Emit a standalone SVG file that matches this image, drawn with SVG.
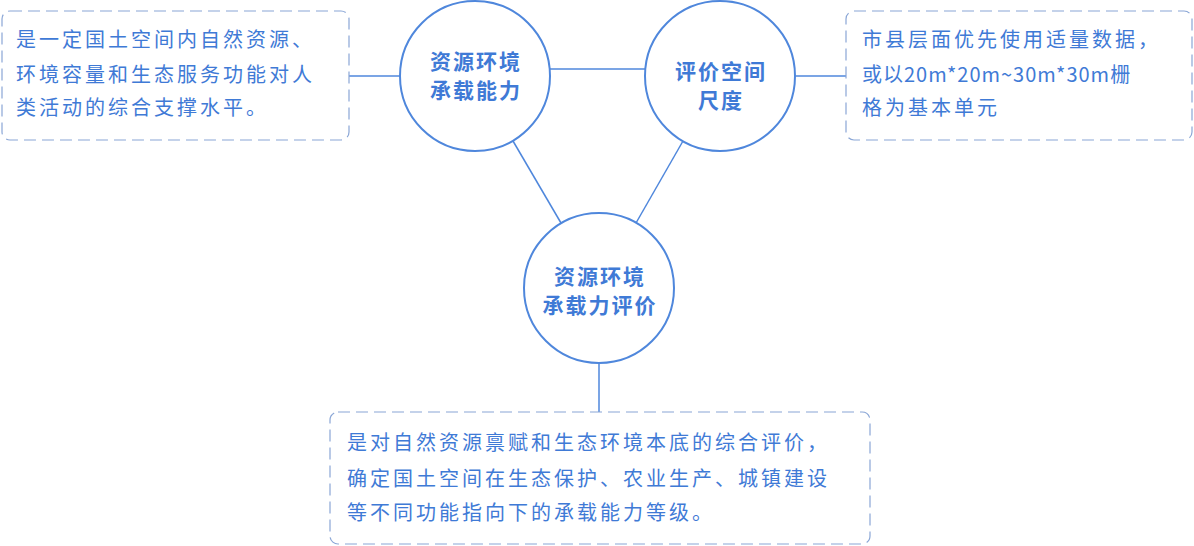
<svg xmlns="http://www.w3.org/2000/svg" width="1194" height="546" viewBox="0 0 1194 546">
<style>
.c{fill:#fff;stroke:#4f87dc;stroke-width:2}
.b{fill:#fff;stroke:#8aa6d6;stroke-width:1.2;stroke-dasharray:12 6}
.l{stroke:#4f87dc;stroke-width:1.5;fill:none}
.t{font-family:"Noto Sans CJK SC","Noto Sans",sans-serif;font-size:20px;letter-spacing:3px;fill:#3f7ad6}
.h{font-family:"Noto Sans CJK SC","Noto Sans",sans-serif;font-size:21px;letter-spacing:2px;font-weight:bold;fill:#3f7ad6;text-anchor:middle}
</style>
<rect width="1194" height="546" fill="#fff"/>
<g id="connectors">
<line class="l" x1="550" y1="69" x2="645" y2="69"/>
<line class="l" x1="513" y1="141" x2="561" y2="223"/>
<line class="l" x1="683" y1="141" x2="636" y2="223"/>
<line class="l" x1="349" y1="76" x2="400" y2="76"/>
<line class="l" x1="796" y1="76" x2="846" y2="76"/>
<line class="l" x1="599" y1="363" x2="599" y2="412"/>
</g>
<g id="box-left"><rect class="b" x="2" y="11" width="347" height="129" rx="8"/>
<text class="t"><tspan x="16" y="47">是一定国土空间内自然资源、</tspan><tspan x="16" y="82">环境容量和生态服务功能对人</tspan><tspan x="16" y="115">类活动的综合支撑水平。</tspan></text></g>
<g id="box-right"><rect class="b" x="846" y="11" width="346" height="129" rx="8"/>
<text class="t"><tspan x="862" y="47">市县层面优先使用适量数据，</tspan><tspan x="862" y="82" letter-spacing="1">或以20m*20m~30m*30m栅</tspan><tspan x="862" y="115">格为基本单元</tspan></text></g>
<g id="box-bottom"><rect class="b" x="330" y="412" width="540" height="132" rx="8"/>
<text class="t"><tspan x="347" y="450">是对自然资源禀赋和生态环境本底的综合评价，</tspan><tspan x="347" y="486">确定国土空间在生态保护、农业生产、城镇建设</tspan><tspan x="347" y="520">等不同功能指向下的承载能力等级。</tspan></text></g>
<g id="node-1"><circle class="c" cx="475" cy="76" r="75"/>
<text class="h"><tspan x="476" y="69">资源环境</tspan><tspan x="476" y="98">承载能力</tspan></text></g>
<g id="node-2"><circle class="c" cx="720" cy="76" r="75"/>
<text class="h"><tspan x="721" y="79">评价空间</tspan><tspan x="721" y="108">尺度</tspan></text></g>
<g id="node-3"><circle class="c" cx="599" cy="288" r="75"/>
<text class="h"><tspan x="600" y="284">资源环境</tspan><tspan x="600" y="313">承载力评价</tspan></text></g>
</svg>
